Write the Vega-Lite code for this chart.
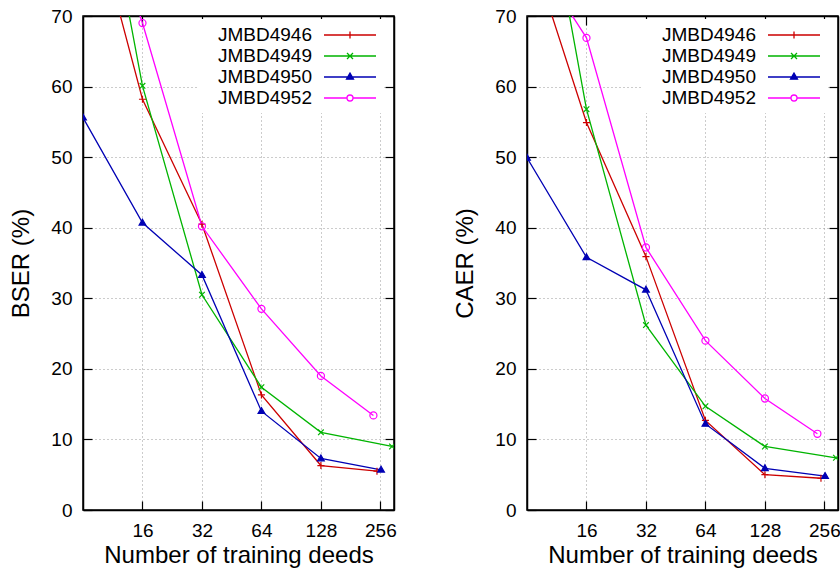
{
  "$schema": "https://vega.github.io/schema/vega-lite/v6.json",
  "background": "white",
  "padding": {"left": 9, "top": 6, "right": 0, "bottom": 0},
  "config": {
    "font": "Liberation Sans",
    "view": {"stroke": "black", "strokeWidth": 1.5},
    "axis": {
      "labelFont": "Liberation Sans", "labelFontSize": 19, "labelColor": "black",
      "titleFont": "Liberation Sans", "titleFontSize": 24, "titleFontWeight": "normal", "titleColor": "black",
      "domainColor": "black", "domainWidth": 1.5, "tickColor": "black", "tickWidth": 1.2,
      "tickSize": -9, "labelPadding": 20,
      "gridColor": "#999999", "gridDash": [1, 3], "gridWidth": 1, "gridOpacity": 1
    },
    "legend": {"labelFont": "Liberation Sans", "labelFontSize": 19, "labelColor": "black"}
  },
  "datasets": {
    "d": [
      {"metric": "BSER", "series": "JMBD4946", "n": 8, "value": 90},
      {"metric": "BSER", "series": "JMBD4946", "n": 16, "value": 58.2},
      {"metric": "BSER", "series": "JMBD4946", "n": 32, "value": 40.5},
      {"metric": "BSER", "series": "JMBD4946", "n": 64, "value": 16.3},
      {"metric": "BSER", "series": "JMBD4946", "n": 128, "value": 6.3},
      {"metric": "BSER", "series": "JMBD4946", "n": 246, "value": 5.5},
      {"metric": "BSER", "series": "JMBD4949", "n": 8, "value": 105},
      {"metric": "BSER", "series": "JMBD4949", "n": 16, "value": 60.1},
      {"metric": "BSER", "series": "JMBD4949", "n": 32, "value": 30.5},
      {"metric": "BSER", "series": "JMBD4949", "n": 64, "value": 17.4},
      {"metric": "BSER", "series": "JMBD4949", "n": 128, "value": 11.0},
      {"metric": "BSER", "series": "JMBD4949", "n": 293, "value": 9.0},
      {"metric": "BSER", "series": "JMBD4950", "n": 8, "value": 55.6},
      {"metric": "BSER", "series": "JMBD4950", "n": 16, "value": 40.7},
      {"metric": "BSER", "series": "JMBD4950", "n": 32, "value": 33.3},
      {"metric": "BSER", "series": "JMBD4950", "n": 64, "value": 14.0},
      {"metric": "BSER", "series": "JMBD4950", "n": 128, "value": 7.3},
      {"metric": "BSER", "series": "JMBD4950", "n": 258, "value": 5.7},
      {"metric": "BSER", "series": "JMBD4952", "n": 8, "value": 94},
      {"metric": "BSER", "series": "JMBD4952", "n": 16, "value": 69.0},
      {"metric": "BSER", "series": "JMBD4952", "n": 32, "value": 40.2},
      {"metric": "BSER", "series": "JMBD4952", "n": 64, "value": 28.5},
      {"metric": "BSER", "series": "JMBD4952", "n": 128, "value": 19.0},
      {"metric": "BSER", "series": "JMBD4952", "n": 236, "value": 13.4},
      {"metric": "CAER", "series": "JMBD4946", "n": 8, "value": 81},
      {"metric": "CAER", "series": "JMBD4946", "n": 16, "value": 54.9},
      {"metric": "CAER", "series": "JMBD4946", "n": 32, "value": 35.9},
      {"metric": "CAER", "series": "JMBD4946", "n": 64, "value": 12.7},
      {"metric": "CAER", "series": "JMBD4946", "n": 128, "value": 5.0},
      {"metric": "CAER", "series": "JMBD4946", "n": 246, "value": 4.5},
      {"metric": "CAER", "series": "JMBD4949", "n": 8, "value": 103},
      {"metric": "CAER", "series": "JMBD4949", "n": 16, "value": 56.8},
      {"metric": "CAER", "series": "JMBD4949", "n": 32, "value": 26.2},
      {"metric": "CAER", "series": "JMBD4949", "n": 64, "value": 14.7},
      {"metric": "CAER", "series": "JMBD4949", "n": 128, "value": 9.0},
      {"metric": "CAER", "series": "JMBD4949", "n": 293, "value": 7.4},
      {"metric": "CAER", "series": "JMBD4950", "n": 8, "value": 49.9},
      {"metric": "CAER", "series": "JMBD4950", "n": 16, "value": 35.8},
      {"metric": "CAER", "series": "JMBD4950", "n": 32, "value": 31.2},
      {"metric": "CAER", "series": "JMBD4950", "n": 64, "value": 12.2},
      {"metric": "CAER", "series": "JMBD4950", "n": 128, "value": 5.9},
      {"metric": "CAER", "series": "JMBD4950", "n": 258, "value": 4.8},
      {"metric": "CAER", "series": "JMBD4952", "n": 8, "value": 80},
      {"metric": "CAER", "series": "JMBD4952", "n": 16, "value": 66.9},
      {"metric": "CAER", "series": "JMBD4952", "n": 32, "value": 37.2},
      {"metric": "CAER", "series": "JMBD4952", "n": 64, "value": 24.0},
      {"metric": "CAER", "series": "JMBD4952", "n": 128, "value": 15.8},
      {"metric": "CAER", "series": "JMBD4952", "n": 236, "value": 10.8}
    ]
  },
  "spacing": 56,
  "resolve": {"scale": {"color": "independent"}, "legend": {"color": "independent"}},
  "hconcat": [
    {
      "width": 311, "height": 494,
      "data": {"name": "d"},
      "transform": [{"filter": "datum.metric === 'BSER'"}],
      "layer": [
        {
          "mark": {"type": "line", "clip": true, "strokeWidth": 1.3},
          "encoding": {
            "x": {"field": "n", "type": "quantitative", "scale": {"type": "log", "base": 2, "domain": [8, 300], "nice": false},
                  "axis": {"values": [16, 32, 64, 128, 256], "format": "d", "title": "Number of training deeds", "grid": true, "titlePadding": 3}},
            "y": {"field": "value", "type": "quantitative", "scale": {"domain": [0, 70], "nice": false},
                  "axis": {"values": [0, 10, 20, 30, 40, 50, 60, 70], "title": "BSER (%)", "grid": true, "titlePadding": 17}},
            "color": {"field": "series", "type": "nominal",
                      "scale": {"domain": ["JMBD4946", "JMBD4949", "JMBD4950", "JMBD4952"], "range": ["#cc0000", "#00b400", "#0000b4", "#ff00ff"]},
                      "legend": {
                        "orient": "none", "legendX": 114, "legendY": 3, "title": null, "fillColor": "white", "padding": 5,
                        "symbolSize": 400, "rowPadding": -2,
                        "encode": {
                          "labels": {"update": {"x": {"value": 110}, "align": {"value": "right"}}},
                          "symbols": {"update": {
                            "x": {"value": 148},
                            "shape": {"signal": "datum.value === 'JMBD4946' ? 'M-2.6,0H2.6M0,-0.35V0.35' : datum.value === 'JMBD4949' ? 'M-2.6,0H2.6M-0.3,-0.3L0.3,0.3M-0.3,0.3L0.3,-0.3' : datum.value === 'JMBD4950' ? 'M-2.6,0H2.6M0,-0.4L0.35,0.22H-0.35Z' : 'M-2.6,0H-0.3M0.3,0H2.6M0.3,0A0.3,0.3,0,1,1,-0.3,0A0.3,0.3,0,1,1,0.3,0'"},
                            "stroke": {"signal": "datum.value === 'JMBD4946' ? '#cc0000' : datum.value === 'JMBD4949' ? '#00b400' : datum.value === 'JMBD4950' ? '#0000b4' : '#ff00ff'"},
                            "fill": {"signal": "datum.value === 'JMBD4950' ? '#0000b4' : 'transparent'"},
                            "strokeWidth": {"value": 1.3},
                            "opacity": {"value": 1}
                          }}
                        }
                      }}
          }
        },
        {
          "mark": {"type": "point", "clip": true, "filled": false, "strokeWidth": 1.2, "size": 50, "opacity": 1},
          "encoding": {
            "x": {"field": "n", "type": "quantitative", "scale": {"type": "log", "base": 2, "domain": [8, 300], "nice": false},
                  "axis": {"orient": "top", "values": [16, 32, 64, 128, 256], "labels": false, "grid": false, "title": null}},
            "y": {"field": "value", "type": "quantitative", "scale": {"domain": [0, 70], "nice": false},
                  "axis": {"orient": "right", "values": [0, 10, 20, 30, 40, 50, 60, 70], "labels": false, "grid": false, "title": null}},
            "color": {"field": "series", "type": "nominal"},
            "shape": {"field": "series", "type": "nominal",
                      "scale": {"domain": ["JMBD4946", "JMBD4949", "JMBD4950", "JMBD4952"], "range": ["M-1,0H1M0,-1V1", "M-0.8,-0.8L0.8,0.8M-0.8,0.8L0.8,-0.8", "M0,-1L0.95,0.65H-0.95Z", "circle"]},
                      "legend": null},
            "fill": {"field": "series", "type": "nominal",
                     "scale": {"domain": ["JMBD4946", "JMBD4949", "JMBD4950", "JMBD4952"], "range": ["transparent", "transparent", "#0000b4", "transparent"]},
                     "legend": null}
          }
        }
      ],
      "resolve": {"axis": {"x": "independent", "y": "independent"}}
    },
    {
      "width": 311, "height": 494,
      "data": {"name": "d"},
      "transform": [{"filter": "datum.metric === 'CAER'"}],
      "layer": [
        {
          "mark": {"type": "line", "clip": true, "strokeWidth": 1.3},
          "encoding": {
            "x": {"field": "n", "type": "quantitative", "scale": {"type": "log", "base": 2, "domain": [8, 300], "nice": false},
                  "axis": {"values": [16, 32, 64, 128, 256], "format": "d", "title": "Number of training deeds", "grid": true, "titlePadding": 3}},
            "y": {"field": "value", "type": "quantitative", "scale": {"domain": [0, 70], "nice": false},
                  "axis": {"values": [0, 10, 20, 30, 40, 50, 60, 70], "title": "CAER (%)", "grid": true, "titlePadding": 17}},
            "color": {"field": "series", "type": "nominal",
                      "scale": {"domain": ["JMBD4946", "JMBD4949", "JMBD4950", "JMBD4952"], "range": ["#cc0000", "#00b400", "#0000b4", "#ff00ff"]},
                      "legend": {
                        "orient": "none", "legendX": 114, "legendY": 3, "title": null, "fillColor": "white", "padding": 5,
                        "symbolSize": 400, "rowPadding": -2,
                        "encode": {
                          "labels": {"update": {"x": {"value": 110}, "align": {"value": "right"}}},
                          "symbols": {"update": {
                            "x": {"value": 148},
                            "shape": {"signal": "datum.value === 'JMBD4946' ? 'M-2.6,0H2.6M0,-0.35V0.35' : datum.value === 'JMBD4949' ? 'M-2.6,0H2.6M-0.3,-0.3L0.3,0.3M-0.3,0.3L0.3,-0.3' : datum.value === 'JMBD4950' ? 'M-2.6,0H2.6M0,-0.4L0.35,0.22H-0.35Z' : 'M-2.6,0H-0.3M0.3,0H2.6M0.3,0A0.3,0.3,0,1,1,-0.3,0A0.3,0.3,0,1,1,0.3,0'"},
                            "stroke": {"signal": "datum.value === 'JMBD4946' ? '#cc0000' : datum.value === 'JMBD4949' ? '#00b400' : datum.value === 'JMBD4950' ? '#0000b4' : '#ff00ff'"},
                            "fill": {"signal": "datum.value === 'JMBD4950' ? '#0000b4' : 'transparent'"},
                            "strokeWidth": {"value": 1.3},
                            "opacity": {"value": 1}
                          }}
                        }
                      }}
          }
        },
        {
          "mark": {"type": "point", "clip": true, "filled": false, "strokeWidth": 1.2, "size": 50, "opacity": 1},
          "encoding": {
            "x": {"field": "n", "type": "quantitative", "scale": {"type": "log", "base": 2, "domain": [8, 300], "nice": false},
                  "axis": {"orient": "top", "values": [16, 32, 64, 128, 256], "labels": false, "grid": false, "title": null}},
            "y": {"field": "value", "type": "quantitative", "scale": {"domain": [0, 70], "nice": false},
                  "axis": {"orient": "right", "values": [0, 10, 20, 30, 40, 50, 60, 70], "labels": false, "grid": false, "title": null}},
            "color": {"field": "series", "type": "nominal"},
            "shape": {"field": "series", "type": "nominal",
                      "scale": {"domain": ["JMBD4946", "JMBD4949", "JMBD4950", "JMBD4952"], "range": ["M-1,0H1M0,-1V1", "M-0.8,-0.8L0.8,0.8M-0.8,0.8L0.8,-0.8", "M0,-1L0.95,0.65H-0.95Z", "circle"]},
                      "legend": null},
            "fill": {"field": "series", "type": "nominal",
                     "scale": {"domain": ["JMBD4946", "JMBD4949", "JMBD4950", "JMBD4952"], "range": ["transparent", "transparent", "#0000b4", "transparent"]},
                     "legend": null}
          }
        }
      ],
      "resolve": {"axis": {"x": "independent", "y": "independent"}}
    }
  ]
}
